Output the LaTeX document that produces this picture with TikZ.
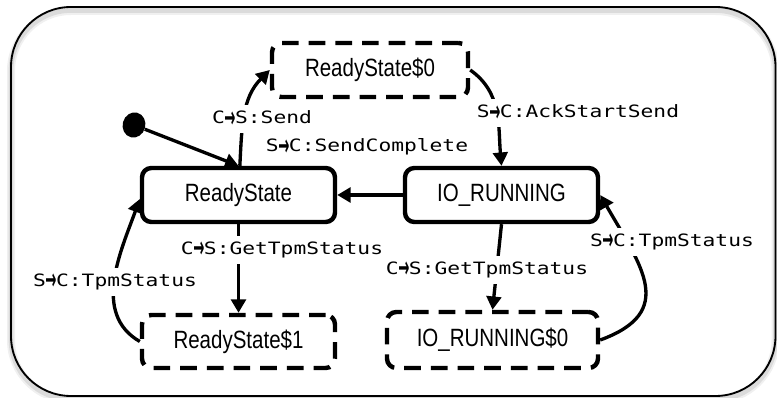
\documentclass[tikz,border=0pt]{standalone}
\usepackage{fontspec}
\usepackage{graphicx}
\newfontfamily\statefont[FakeStretch=0.82]{Liberation Sans}
\newfontfamily\eventfont[FakeStretch=1.25]{DejaVu Sans Mono}
\newfontfamily\arrowfont{DejaVu Sans}
\usetikzlibrary{arrows.meta,shapes.geometric}
% arrow between sender and receiver, squeezed into one character cell
\newcommand\evarrow{\makebox[0.602em]{\raisebox{-0.2em}{\scalebox{0.78}[1.7]{\arrowfont\bfseries →}}}}

\begin{document}
\begin{tikzpicture}[x=0.75pt,y=-0.75pt,
  state/.style={draw, line width=3.3pt, rounded corners=7pt, inner sep=0pt,
    minimum height=40.5pt, minimum width=144.75pt,
    font=\statefont\fontsize{18.75}{20}\selectfont},
  substate/.style={state, dash pattern=on 12.5pt off 7.5pt},
  trans/.style={line width=2.5pt, -{Triangle[length=10pt,width=11pt]}},
  evt/.style={fill=white, inner sep=4.5pt,
    font=\eventfont\fontsize{12.75}{14}\selectfont},
  frameshade/.style={line width=#1, rounded corners=45pt}
]
\useasboundingbox (0,0) rectangle (777,398);

% soft shadow of the outer frame, then the frame itself
\draw[frameshade=6pt, black!6]  (11,11) rectangle (775.5,400);
\draw[frameshade=3.5pt, black!14] (11,10.5) rectangle (775.5,399.5);
\draw[line width=1.4pt, rounded corners=45pt] (11,7) rectangle (775.5,396);

% states
\node[state] (RS)  at (238.5,195) {ReadyState};
\node[state] (IO)  at (501.5,195) {IO\_RUNNING};
\node[substate, minimum width=147pt] (RS0) at (370,70) {ReadyState\$0};
\node[substate, minimum height=39.75pt] (RS1) at (238.5,341.5) {ReadyState\$1};
\node[substate, minimum width=158.25pt, minimum height=42pt] (IO0) at (492.5,340) {IO\_RUNNING\$0};

% initial pseudo-state
\node[ellipse, fill, inner sep=0pt, minimum width=17pt, minimum height=19pt, rotate=-15] (init) at (134,125) {};

% transitions
\draw[trans] (init) -- (RS.north);
\draw[trans] ([xshift=1pt]RS.north) to[out=87,in=225] (RS0.west);
\draw[trans] (RS0.east) to[out=-35,in=95] (IO.north);
\draw[trans] (IO.west) -- (RS.east);
\draw[trans] (RS.south) -- (RS1.north);
\draw[trans] (IO.south) -- (IO0.north);
\draw[trans] (RS1.west) to[out=150,in=250] ([yshift=-3pt]RS.west);
\draw[trans] (IO0.east) to[out=20,in=-60,looseness=1.45] (IO.east);

% event labels
\node[evt] (lSend)   at (262,119) {C\evarrow S:Send};
\node[evt] (lDone)   at (367,147) {S\evarrow C:SendComplete};
\node[evt] (lAck)    at (578,113) {S\evarrow C:AckStartSend};
\node[evt] (lGetL)   at (282,250) {C\evarrow S:GetTpmStatus};
\node[evt] (lGetR)   at (487,270) {C\evarrow S:GetTpmStatus};
\node[evt] (lTpmL)   at (115,282) {S\evarrow C:TpmStatus};
\node[evt] (lTpmR)   at (672,242) {S\evarrow C:TpmStatus};
\end{tikzpicture}
\end{document}
